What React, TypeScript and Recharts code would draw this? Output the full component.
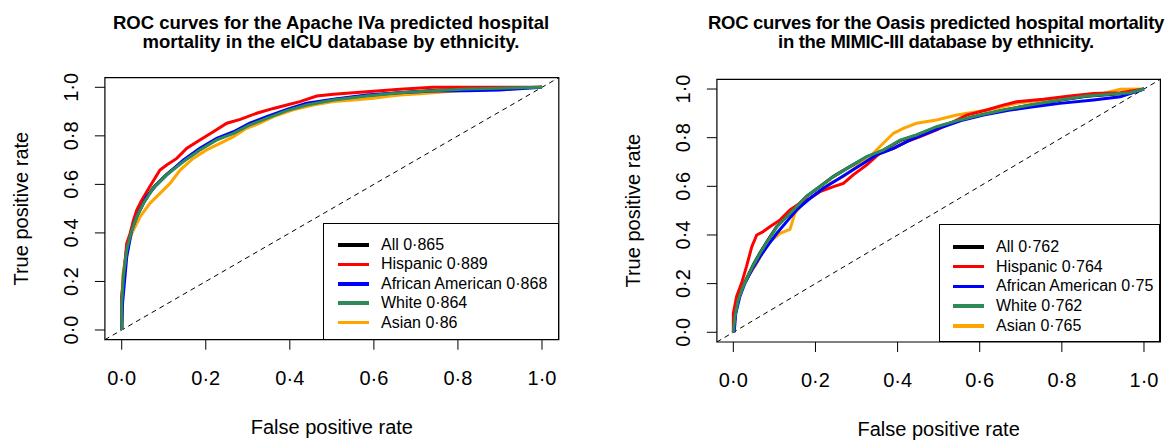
import React from 'react';
import { LineChart, Line, XAxis, YAxis, ReferenceLine, ReferenceArea, Legend } from 'recharts';

type Pair = [number, number];

// Shared axis ticks and group metadata
const xTicks = [0, 0.2, 0.4, 0.6, 0.8, 1];
const yTicks = [0, 0.2, 0.4, 0.6, 0.8, 1];
const groups = ['All', 'Hispanic', 'African American', 'White', 'Asian'];
const groupColors = ['#000000', '#FF0000', '#0000FF', '#2E8B57', '#FFA500'];

// AUC per group
const eicuAuc = [0.865, 0.889, 0.868, 0.864, 0.86];
const mimicAuc = [0.762, 0.764, 0.75, 0.762, 0.765];

// eICU, Apache IVa: [false positive rate, true positive rate]
const eicuAll: Pair[] = [[0, 0], [0, 0.115], [0.004, 0.225], [0.012, 0.335], [0.024, 0.415], [0.036, 0.47], [0.052, 0.525], [0.075, 0.586], [0.107, 0.641], [0.147, 0.697], [0.186, 0.744], [0.226, 0.785], [0.266, 0.813], [0.305, 0.847], [0.345, 0.874], [0.393, 0.905], [0.44, 0.928], [0.504, 0.949], [0.583, 0.965], [0.662, 0.978], [0.741, 0.987], [0.821, 0.993], [0.9, 0.997], [1, 1]];
const eicuHispanic: Pair[] = [[0, 0], [0, 0.137], [0.006, 0.247], [0.012, 0.357], [0.02, 0.398], [0.028, 0.453], [0.036, 0.495], [0.048, 0.536], [0.067, 0.591], [0.091, 0.659], [0.107, 0.68], [0.131, 0.707], [0.155, 0.749], [0.186, 0.783], [0.218, 0.817], [0.25, 0.852], [0.282, 0.868], [0.321, 0.893], [0.361, 0.913], [0.393, 0.927], [0.424, 0.941], [0.464, 0.964], [0.504, 0.971], [0.583, 0.982], [0.662, 0.992], [0.741, 1], [1, 1]];
const eicuAfricanAmerican: Pair[] = [[0, 0], [0.002, 0.11], [0.012, 0.302], [0.024, 0.412], [0.036, 0.467], [0.059, 0.549], [0.083, 0.598], [0.107, 0.639], [0.147, 0.701], [0.186, 0.749], [0.226, 0.79], [0.266, 0.817], [0.305, 0.852], [0.345, 0.879], [0.393, 0.909], [0.44, 0.934], [0.504, 0.951], [0.583, 0.968], [0.662, 0.978], [0.741, 0.985], [0.821, 0.986], [0.9, 0.989], [1, 1]];
const eicuWhite: Pair[] = [[0, 0], [0, 0.11], [0.004, 0.22], [0.012, 0.33], [0.024, 0.412], [0.036, 0.467], [0.052, 0.522], [0.075, 0.584], [0.107, 0.639], [0.147, 0.694], [0.186, 0.742], [0.226, 0.783], [0.266, 0.81], [0.305, 0.845], [0.345, 0.872], [0.393, 0.904], [0.44, 0.927], [0.504, 0.948], [0.583, 0.964], [0.662, 0.978], [0.741, 0.986], [0.821, 0.993], [0.9, 0.996], [1, 1]];
const eicuAsian: Pair[] = [[0, 0], [0.002, 0.22], [0.012, 0.33], [0.024, 0.398], [0.044, 0.467], [0.067, 0.522], [0.091, 0.563], [0.115, 0.604], [0.139, 0.659], [0.17, 0.707], [0.202, 0.742], [0.234, 0.769], [0.266, 0.797], [0.297, 0.831], [0.329, 0.852], [0.361, 0.879], [0.408, 0.907], [0.456, 0.927], [0.504, 0.941], [0.551, 0.948], [0.599, 0.955], [0.63, 0.962], [0.662, 0.968], [0.71, 0.973], [0.741, 0.978], [0.821, 0.989], [0.9, 0.996], [1, 1]];

// MIMIC-III, Oasis: [false positive rate, true positive rate]
const mimicAll: Pair[] = [[0, 0], [0.004, 0.066], [0.012, 0.135], [0.024, 0.19], [0.037, 0.238], [0.049, 0.279], [0.065, 0.327], [0.085, 0.381], [0.106, 0.435], [0.13, 0.476], [0.154, 0.517], [0.179, 0.56], [0.211, 0.599], [0.244, 0.641], [0.284, 0.681], [0.325, 0.721], [0.365, 0.748], [0.406, 0.788], [0.446, 0.81], [0.495, 0.843], [0.552, 0.872], [0.601, 0.892], [0.657, 0.913], [0.722, 0.933], [0.795, 0.954], [0.86, 0.97], [0.917, 0.978], [0.966, 0.985], [1, 1]];
const mimicHispanic: Pair[] = [[0, 0], [0, 0.078], [0.008, 0.147], [0.02, 0.201], [0.032, 0.27], [0.045, 0.352], [0.057, 0.4], [0.073, 0.414], [0.089, 0.434], [0.114, 0.462], [0.138, 0.503], [0.162, 0.53], [0.187, 0.551], [0.211, 0.578], [0.244, 0.599], [0.268, 0.612], [0.292, 0.647], [0.325, 0.688], [0.357, 0.736], [0.39, 0.756], [0.422, 0.784], [0.455, 0.804], [0.495, 0.832], [0.528, 0.859], [0.568, 0.893], [0.617, 0.914], [0.657, 0.934], [0.69, 0.948], [0.755, 0.958], [0.82, 0.971], [0.877, 0.982], [0.942, 0.985], [1, 1]];
const mimicAfricanAmerican: Pair[] = [[0.002, 0], [0.006, 0.078], [0.016, 0.147], [0.028, 0.201], [0.045, 0.256], [0.065, 0.311], [0.085, 0.359], [0.106, 0.407], [0.13, 0.455], [0.154, 0.503], [0.187, 0.551], [0.219, 0.592], [0.252, 0.626], [0.284, 0.66], [0.317, 0.695], [0.349, 0.729], [0.39, 0.756], [0.43, 0.79], [0.471, 0.818], [0.511, 0.845], [0.56, 0.873], [0.609, 0.893], [0.674, 0.914], [0.722, 0.925], [0.795, 0.941], [0.877, 0.955], [0.942, 0.968], [1, 1]];
const mimicWhite: Pair[] = [[0, 0], [0.004, 0.064], [0.012, 0.133], [0.024, 0.188], [0.037, 0.236], [0.049, 0.277], [0.065, 0.325], [0.085, 0.379], [0.106, 0.434], [0.13, 0.475], [0.154, 0.516], [0.179, 0.56], [0.211, 0.599], [0.244, 0.64], [0.284, 0.681], [0.325, 0.722], [0.365, 0.749], [0.406, 0.79], [0.446, 0.811], [0.495, 0.845], [0.552, 0.873], [0.601, 0.893], [0.657, 0.914], [0.722, 0.934], [0.795, 0.955], [0.86, 0.971], [0.917, 0.979], [0.966, 0.985], [1, 1]];
const mimicAsian: Pair[] = [[0, 0], [0.004, 0.078], [0.012, 0.133], [0.024, 0.188], [0.041, 0.242], [0.057, 0.284], [0.073, 0.332], [0.089, 0.373], [0.114, 0.407], [0.138, 0.423], [0.15, 0.489], [0.17, 0.53], [0.203, 0.571], [0.235, 0.612], [0.268, 0.64], [0.3, 0.681], [0.333, 0.722], [0.365, 0.777], [0.39, 0.818], [0.414, 0.838], [0.446, 0.859], [0.495, 0.873], [0.544, 0.893], [0.593, 0.907], [0.641, 0.921], [0.69, 0.941], [0.755, 0.955], [0.836, 0.971], [0.901, 0.982], [0.942, 0.999], [1, 1]];

const eicuSeries = [eicuAll, eicuHispanic, eicuAfricanAmerican, eicuWhite, eicuAsian];
const mimicSeries = [mimicAll, mimicHispanic, mimicAfricanAmerican, mimicWhite, mimicAsian];

const FONT = '"Liberation Sans", Arial, Helvetica, sans-serif';
const DOMAIN: [number, number] = [-0.04, 1.04];
// curves drawn back to front
const drawOrder = [0, 4, 1, 2, 3];

const fmt = (v: number) => String(Number(v.toFixed(3))).replace('.', '·');
const fmtTick = (v: number) => v.toFixed(1).replace('.', '·');

type Box = { left: number; top: number; right: number; bottom: number };
type LegendCfg = { left: number; top: number; row0: number; step: number; lineX: number; lineLen: number; textX: number };

type PanelProps = {
  offsetX: number;
  titleLines: string[];
  titleCenter: number;
  titleSpacing: number;
  box: Box;
  legend: LegendCfg;
  series: Pair[][];
  auc: number[];
};

function Panel({ offsetX, titleLines, titleCenter, titleSpacing, box, legend, series, auc }: PanelProps) {
  const W = 584;
  const H = 440;
  const centerX = (box.left + box.right) / 2;
  const centerY = (box.top + box.bottom) / 2;
  const legendW = box.right - legend.left;
  const legendH = box.bottom - legend.top;

  const XTick = (props: any) => (
    <text x={props.x} y={props.y + 33} textAnchor="middle" fontFamily={FONT} fontSize={20} fill="#000">
      {fmtTick(props.payload.value)}
    </text>
  );
  const YTick = (props: any) => {
    const bx = props.x - 15;
    return (
      <text x={bx} y={props.y} transform={`rotate(-90 ${bx} ${props.y})`} textAnchor="middle" fontFamily={FONT} fontSize={20} fill="#000">
        {fmtTick(props.payload.value)}
      </text>
    );
  };
  const xTitle = () => (
    <text x={centerX} y={box.bottom + 94.3} textAnchor="middle" fontFamily={FONT} fontSize={20} fill="#000">
      False positive rate
    </text>
  );
  const yTitle = () => (
    <text x={box.left - 76.4} y={centerY} transform={`rotate(-90 ${box.left - 76.4} ${centerY})`} textAnchor="middle" fontFamily={FONT} fontSize={20} fill="#000">
      True positive rate
    </text>
  );

  const legendContent = () => (
    <div style={{ position: 'relative', width: legendW, height: legendH, border: '1px solid #000', boxSizing: 'border-box', background: '#fff', fontFamily: FONT, fontSize: 16, color: '#000' }}>
      {groups.map((g, i) => {
        const cy = legend.row0 + i * legend.step;
        return (
          <React.Fragment key={g}>
            <div style={{ position: 'absolute', left: legend.lineX, top: cy - 1.75, width: legend.lineLen, height: 3.5, background: groupColors[i] }} />
            <div style={{ position: 'absolute', left: legend.textX, top: cy - 10, lineHeight: '20px', whiteSpace: 'nowrap' }}>
              {`${g} ${fmt(auc[i])}`}
            </div>
          </React.Fragment>
        );
      })}
    </div>
  );

  return (
    <div style={{ position: 'absolute', left: offsetX, top: 0, width: W, height: H }}>
      <div style={{ position: 'absolute', left: titleCenter - 320, top: 12.6, width: 640, textAlign: 'center', fontFamily: FONT, fontWeight: 'bold', fontSize: 18.5, letterSpacing: titleSpacing, lineHeight: '19px', color: '#000', whiteSpace: 'nowrap', zIndex: 2 }}>
        {titleLines.map((t) => (
          <div key={t}>{t}</div>
        ))}
      </div>
      <LineChart width={W} height={H} margin={{ top: box.top, right: W - box.right, bottom: 0, left: 0 }}>
        <XAxis
          type="number"
          dataKey="x"
          domain={DOMAIN}
          ticks={xTicks}
          interval={0}
          allowDataOverflow
          height={H - box.bottom}
          axisLine={false}
          tickSize={10}
          tickLine={{ stroke: '#000', strokeWidth: 1 }}
          tick={XTick}
          label={{ value: 'False positive rate', content: xTitle }}
        />
        <YAxis
          type="number"
          domain={DOMAIN}
          ticks={yTicks}
          interval={0}
          allowDataOverflow
          width={box.left}
          axisLine={false}
          tickSize={10}
          tickLine={{ stroke: '#000', strokeWidth: 1 }}
          tick={YTick}
          label={{ value: 'True positive rate', content: yTitle }}
        />
        <ReferenceArea x1={-0.04} x2={1.04} y1={-0.04} y2={1.04} fill="none" fillOpacity={0} stroke="#000" strokeWidth={1.2} strokeOpacity={1} />
        <ReferenceLine segment={[{ x: -0.04, y: -0.04 }, { x: 1.04, y: 1.04 }]} stroke="#000" strokeWidth={1} strokeDasharray="5 4" />
        {drawOrder.map((i) => (
          <Line
            key={groups[i]}
            name={groups[i]}
            data={series[i].map(([x, y]) => ({ x, y }))}
            dataKey="y"
            type="linear"
            stroke={groupColors[i]}
            strokeWidth={3}
            dot={false}
            activeDot={false}
            isAnimationActive={false}
          />
        ))}
        <Legend
          layout="vertical"
          align="center"
          verticalAlign="middle"
          wrapperStyle={{ left: legend.left, top: legend.top, width: legendW, height: legendH, margin: 0 }}
          content={legendContent}
        />
      </LineChart>
    </div>
  );
}

export default function App() {
  return (
    <div style={{ position: 'absolute', left: 0, top: 0, width: 1168, height: 440, background: '#fff', overflow: 'hidden' }}>
      <Panel
        offsetX={0}
        titleLines={['ROC curves for the Apache IVa predicted hospital', 'mortality in the eICU database by ethnicity.']}
        titleCenter={331}
        titleSpacing={0}
        box={{ left: 104.9, top: 77.6, right: 558.8, bottom: 339.7 }}
        legend={{ left: 322.7, top: 223.3, row0: 20.7, step: 19.4, lineX: 14, lineLen: 31.6, textX: 57.3 }}
        series={eicuSeries}
        auc={eicuAuc}
      />
      <Panel
        offsetX={584}
        titleLines={['ROC curves for the Oasis predicted hospital mortality', 'in the MIMIC-III database by ethnicity.']}
        titleCenter={352}
        titleSpacing={-0.3}
        box={{ left: 132.9, top: 79.3, right: 576.4, bottom: 342 }}
        legend={{ left: 354.7, top: 224.3, row0: 21.7, step: 19.75, lineX: 13.6, lineLen: 30.4, textX: 56.3 }}
        series={mimicSeries}
        auc={mimicAuc}
      />
    </div>
  );
}
